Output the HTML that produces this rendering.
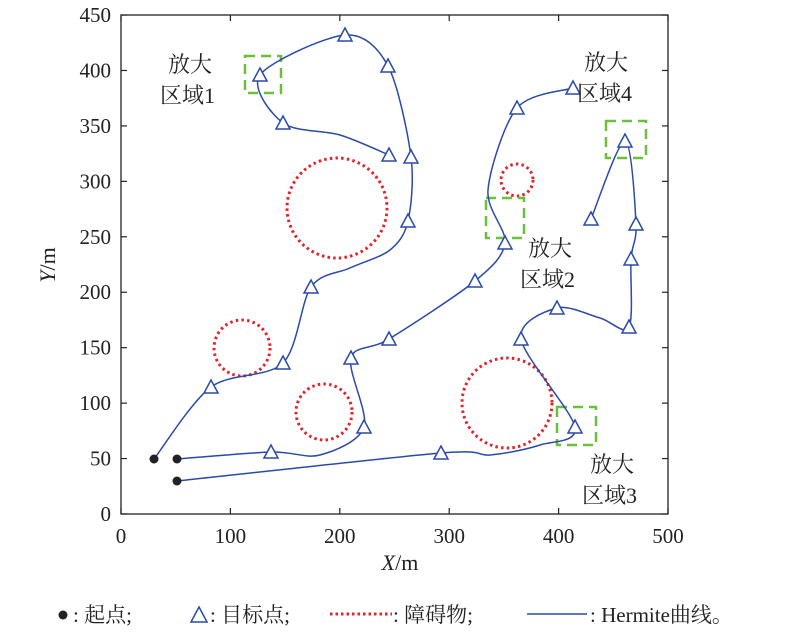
<!DOCTYPE html>
<html><head><meta charset="utf-8"><style>
body{margin:0;background:#fff;}
svg text{font-family:"Liberation Serif","Noto Serif CJK SC",serif;fill:#222;}
</style></head><body>
<svg id="s" width="800" height="634" viewBox="0 0 800 634" xmlns="http://www.w3.org/2000/svg">
<rect x="0" y="0" width="800" height="634" fill="#fff"/>
<g fill="none" stroke="#e0242a" stroke-width="3" stroke-dasharray="2.5 3.2">
<circle cx="337" cy="208" r="50"/>
<circle cx="517" cy="180" r="16"/>
<circle cx="242" cy="348" r="28"/>
<circle cx="324" cy="412" r="28"/>
<circle cx="507" cy="403" r="45"/>
</g>
<g fill="none" stroke="#6cbf3a" stroke-width="2.5" stroke-dasharray="10 6">
<rect x="245" y="56" width="36" height="37"/>
<rect x="486" y="198" width="38" height="40"/>
<rect x="606" y="121" width="40" height="37"/>
<rect x="557" y="407" width="39" height="38"/>
</g>
<g id="paths" fill="none" stroke="#2a4aa8" stroke-width="1.5"></g>
<g id="tris" fill="#fff" stroke="#2a4aa8" stroke-width="1.5"></g>
<g fill="#222">
<circle cx="154" cy="459" r="4.5"/><circle cx="177" cy="459" r="4.5"/><circle cx="177" cy="481" r="4.5"/>
</g>
<rect x="121" y="15" width="547" height="499" fill="none" stroke="#222" stroke-width="1.3"/>
<g id="ticks" stroke="#222" stroke-width="1.2"></g>
<g font-size="21" text-anchor="middle" id="xl"></g>
<g font-size="21" text-anchor="end" id="yl"></g>
<text x="400" y="570" font-size="22" text-anchor="middle"><tspan font-style="italic">X</tspan>/m</text>
<text transform="translate(55,265) rotate(-90)" font-size="22" text-anchor="middle"><tspan font-style="italic">Y</tspan>/m</text>
<g font-size="22">
<text x="168" y="72">放大</text><text x="160" y="103">区域1</text>
<text x="528" y="256">放大</text><text x="520" y="287">区域2</text>
<text x="584" y="70">放大</text><text x="577" y="101">区域4</text>
<text x="590" y="472">放大</text><text x="582" y="503">区域3</text>
</g>
<g font-size="21">
<circle cx="63" cy="615" r="4.5" fill="#222"/>
<text x="73" y="622">: 起点;</text>
<polygon points="191,622 199,607 207,622" fill="none" stroke="#2a4aa8" stroke-width="1.5"/>
<text x="210" y="622">: 目标点;</text>
<line x1="330" y1="614" x2="392" y2="614" stroke="#e0242a" stroke-width="3" stroke-dasharray="2.5 3"/>
<text x="393" y="622">: 障碍物;</text>
<line x1="527" y1="614" x2="587" y2="614" stroke="#2a4aa8" stroke-width="1.5"/>
<text x="590" y="622">: Hermite曲线。</text>
</g>
</svg>
<script>
var NS="http://www.w3.org/2000/svg";
function el(p,t,a){var e=document.createElementNS(NS,t);for(var k in a)e.setAttribute(k,a[k]);document.getElementById(p).appendChild(e);return e;}
function cr(pts){var d="M"+pts[0][0]+","+pts[0][1];for(var i=0;i<pts.length-1;i++){var p0=pts[i-1]||pts[i],p1=pts[i],p2=pts[i+1],p3=pts[i+2]||p2;var t=0.15;
d+=" C"+(p1[0]+(p2[0]-p0[0])*t)+","+(p1[1]+(p2[1]-p0[1])*t)+" "+(p2[0]-(p3[0]-p1[0])*t)+","+(p2[1]-(p3[1]-p1[1])*t)+" "+p2[0]+","+p2[1];}return d;}
var A=[[154,459],[211,387],[283,363],[311,287],[350,268],[390,250],[408,221],[411,157],[388,66],[345,35],[260,75],[283,123],[340,135],[389,155]];
var B=[[177,459],[271,452],[320,455],[364,427],[351,358],[389,339],[475,281],[505,243],[488,190],[517,108],[573,88]];
var C=[[177,481],[441,453],[490,455],[540,445],[575,427],[521,339],[557,308],[600,318],[629,327],[631,259],[636,224],[625,141],[591,219]];
[A,B,C].forEach(function(p){el("paths","path",{d:cr(p)});});
var T=[[211,387],[283,363],[311,287],[408,221],[411,157],[388,66],[345,35],[260,75],[283,123],[389,155],[271,452],[364,427],[351,358],[389,339],[475,281],[505,243],[517,108],[573,88],[441,453],[575,427],[521,339],[557,308],[629,327],[631,259],[636,224],[625,141],[591,219]];
T.forEach(function(q){el("tris","polygon",{points:(q[0]-7)+","+(q[1]+6)+" "+q[0]+","+(q[1]-7)+" "+(q[0]+7)+","+(q[1]+6)});});
for(var i=0;i<=5;i++){var x=121+i*109.4;el("ticks","line",{x1:x,y1:514,x2:x,y2:508});el("ticks","line",{x1:x,y1:15,x2:x,y2:21});var t=el("xl","text",{x:x,y:543});t.textContent=i*100;}
for(var j=0;j<=9;j++){var y=514-j*55.44;el("ticks","line",{x1:121,y1:y,x2:127,y2:y});el("ticks","line",{x1:668,y1:y,x2:662,y2:y});var t=el("yl","text",{x:111,y:y+7});t.textContent=j*50;}
</script>
</body></html>
